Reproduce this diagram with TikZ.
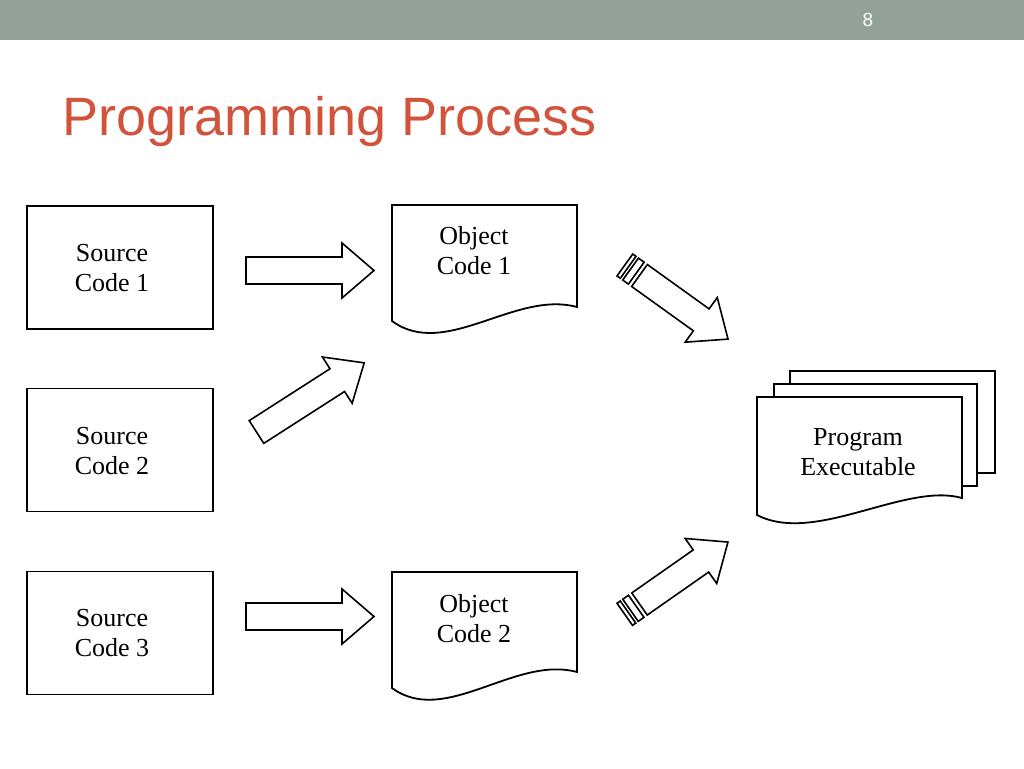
\documentclass[tikz,border=0pt]{standalone}
\usepackage{fontspec}
\setmainfont{Liberation Serif}
\newfontfamily\slidefont{Liberation Sans}
\usepackage{xcolor}
\definecolor{headbar}{HTML}{93A199}
\definecolor{titlered}{HTML}{D2533C}

\tikzset{
  boxline/.style={draw=black,line width=1.8pt,fill=white},
  arrowline/.style={draw=black,line width=1.6pt,fill=white,line join=miter},
  srcbox/.style={boxline,minimum width=186pt,minimum height=123pt,inner sep=0pt},
  plaintext/.style={font=\fontsize{26}{30}\selectfont,align=center,inner sep=0pt},
  pics/blockarrow/.style={code={
    \draw[arrowline] (0,-13.5) -- ({#1-32},-13.5) -- ({#1-32},-27.5) -- (#1,0)
      -- ({#1-32},27.5) -- ({#1-32},13.5) -- (0,13.5) -- cycle;
  }},
  pics/stripedarrow/.style={code={
    \draw[arrowline] (0,-13.5) -- ({#1-33},-13.5) -- ({#1-33},-27.5) -- (#1,0)
      -- ({#1-33},27.5) -- ({#1-33},13.5) -- (0,13.5) -- cycle;
    \draw[arrowline] (-11,-13.5) rectangle (-4,13.5);
    \draw[arrowline] (-18,-13.5) rectangle (-14,13.5);
  }}
}

\begin{document}
\begin{tikzpicture}[x=1pt,y=-1pt]
\useasboundingbox (0,0) rectangle (1024,768);
\fill[headbar] (0,0) rectangle (1024,40);
\node[text=white,font=\slidefont\fontsize{19}{21}\selectfont] (pagenum) at (868,20) {8};
\node[anchor=base west,inner sep=0pt,text=titlered,font=\slidefont\fontsize{54}{60}\selectfont] (title) at (62,135) {Programming Process};

\node[srcbox] (src1) at (120,267.5) {};
\node[plaintext] (src1t) at (112,268) {Source\\Code 1};
\node[srcbox] (src2) at (120,450) {};
\node[plaintext] (src2t) at (112,451) {Source\\Code 2};
\node[srcbox] (src3) at (120,633) {};
\node[plaintext] (src3t) at (112,633.5) {Source\\Code 3};

\draw[boxline] (392,205) -- (577,205) -- (577,307) .. controls (515,290) and (445,360) .. (392,321) -- cycle;
\node[plaintext] (obj1) at (474,251) {Object\\Code 1};
\draw[boxline] (392,572) -- (577,572) -- (577,672) .. controls (515,655) and (445,727) .. (392,688) -- cycle;
\node[plaintext] (obj2) at (474,619) {Object\\Code 2};

\draw[boxline] (790,371) rectangle (995,473);
\draw[boxline] (774,384) rectangle (977,486);
\draw[boxline] (757,397) -- (962,397) -- (962,498) .. controls (905,482) and (815,545) .. (757,515) -- cycle;
\node[plaintext] (prog) at (858,452) {Program\\Executable};

\pic (arr1) at (246,270.5) {blockarrow=128};
\pic[rotate=32.7] (arr2) at (256.5,432) {blockarrow=128};
\pic (arr3) at (246,616.5) {blockarrow=128};
\pic[rotate=-35.7] (arr4) at (639.5,275.5) {stripedarrow=109};
\pic[rotate=35] (arr5) at (639.5,604) {stripedarrow=108};
\end{tikzpicture}
\end{document}
